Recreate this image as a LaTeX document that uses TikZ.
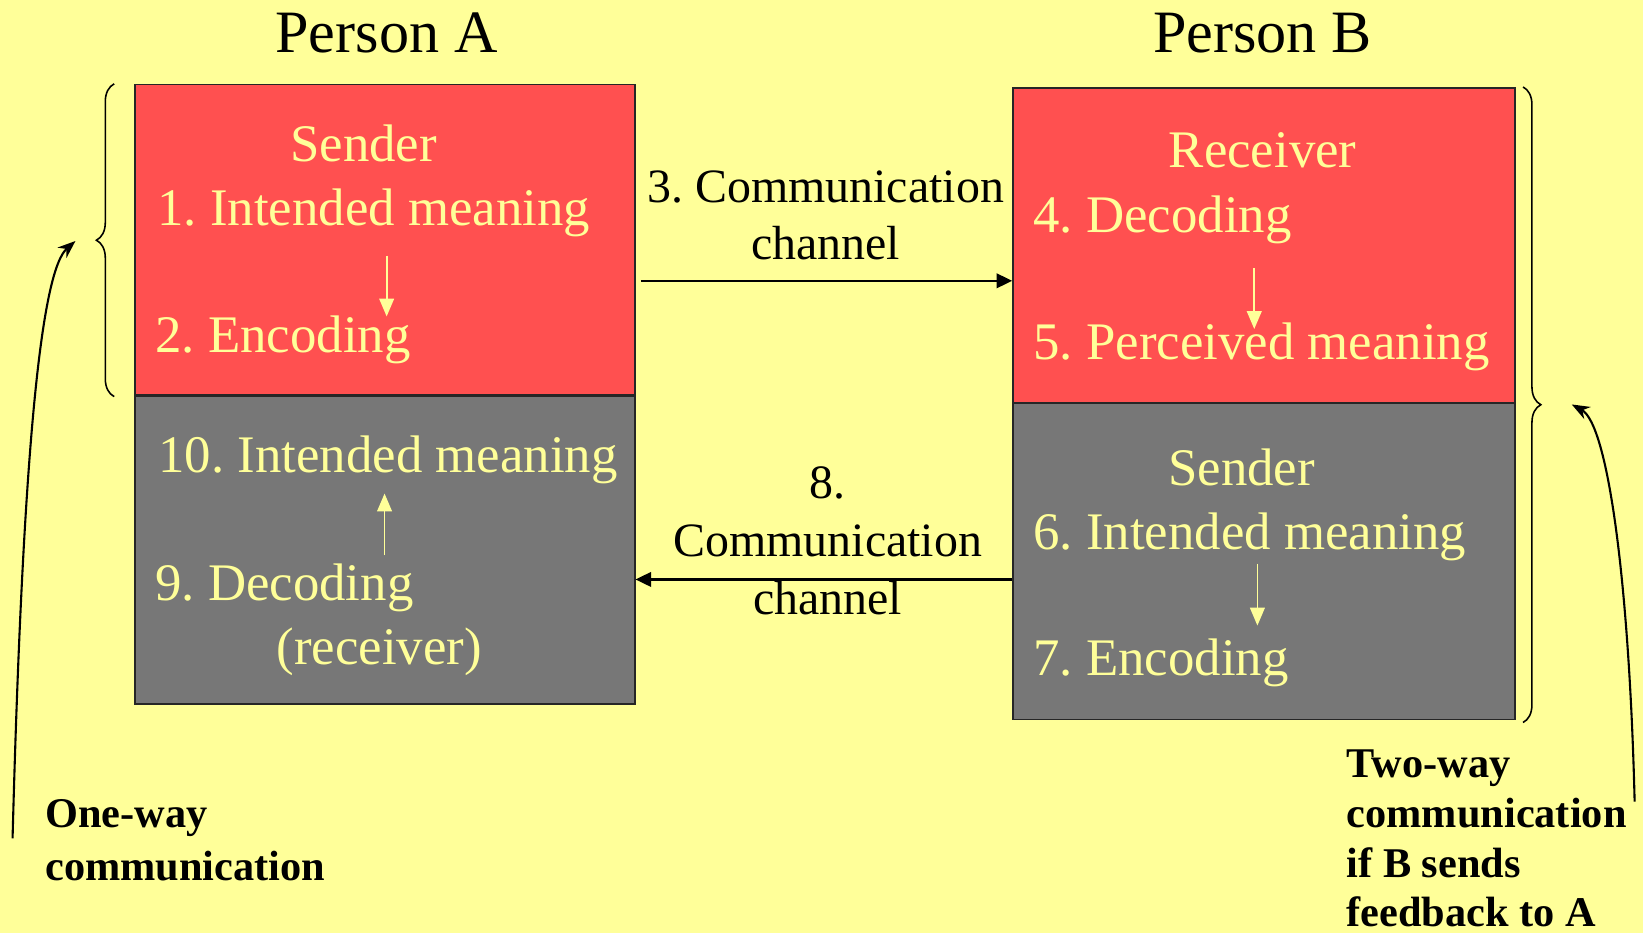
\documentclass[tikz,border=0pt]{standalone}
\usepackage{fontspec}
\setmainfont{Liberation Serif}
\usetikzlibrary{arrows.meta,calc,decorations.pathreplacing}
\frenchspacing

\definecolor{bgyellow}{HTML}{FFFF99}
\definecolor{boxred}{HTML}{FF5050}
\definecolor{boxgray}{HTML}{777777}

\tikzset{
  box/.style={draw=black!85, line width=1.5pt, anchor=north west, inner sep=0pt},
  redbox/.style={box, fill=boxred},
  graybox/.style={box, fill=boxgray},
  boxtext/.style={text=bgyellow, inner sep=0pt, font=\fontsize{50.4}{60}\selectfont},
  chantext/.style={inner sep=0pt, anchor=base, font=\fontsize{45.7}{55}\selectfont},
  persontext/.style={inner sep=0pt, anchor=base, font=\fontsize{57.4}{68}\selectfont},
  notetext/.style={inner sep=0pt, anchor=base west, font=\fontsize{40.4}{48}\selectfont\bfseries},
  inarrow/.style={draw=bgyellow, line width=1.7pt, -{Triangle[length=17pt,width=14pt]}},
  chanarrow/.style={line width=2pt, -{Triangle[length=15pt,width=14pt]}},
  bendarrow/.style={line width=2pt, -{Stealth[length=17pt,width=13pt]}},
  curly/.style={line width=1.5pt, decorate, decoration={brace, amplitude=17pt}}
}

\begin{document}
\begin{tikzpicture}[x=1pt,y=-1pt]

  \fill[bgyellow] (0,0) rectangle (1568,890);
  \useasboundingbox (0,0) rectangle (1568,890);

  % titles
  \node[persontext] (personA) at (369,50) {Person A};
  \node[persontext] (personB) at (1205,50) {Person B};

  % boxes of person A
  \node[redbox, minimum width=477pt, minimum height=296pt] (sendA) at (128,80) {};
  \node[graybox, minimum width=477pt, minimum height=294pt] (recA) at (128,377) {};

  % boxes of person B
  \node[redbox, minimum width=479pt, minimum height=301pt] (recB) at (966,83) {};
  \node[graybox, minimum width=479pt, minimum height=302pt] (sendB) at (966,384) {};

  % texts in A
  \node[boxtext, anchor=base] (senderA) at (347,154) {Sender};
  \node[boxtext, anchor=base west] (m1) at (150,215) {1. Intended meaning};
  \node[boxtext, anchor=base west] (m2) at (148,336) {2. Encoding};
  \node[boxtext, anchor=base west] (m10) at (151,451) {10. Intended meaning};
  \node[boxtext, anchor=base west] (m9) at (148,573) {9. Decoding};
  \node[boxtext, anchor=base] (recvr) at (362,634) {(receiver)};

  % texts in B
  \node[boxtext, anchor=base] (receiverB) at (1205,160) {Receiver};
  \node[boxtext, anchor=base west] (m4) at (986,222) {4. Decoding};
  \node[boxtext, anchor=base west] (m5) at (986,343) {5. Perceived meaning};
  \node[boxtext, anchor=base] (senderB) at (1185,463) {Sender};
  \node[boxtext, anchor=base west] (m6) at (986,524) {6. Intended meaning};
  \node[boxtext, anchor=base west] (m7) at (986,645) {7. Encoding};

  % small arrows inside the boxes
  \coordinate (xA1) at (369,0);
  \coordinate (xA2) at (367,0);
  \coordinate (xB1) at (1197,0);
  \coordinate (xB2) at (1200,0);
  \draw[inarrow] ($(m1.base -| xA1)+(0,29)$) -- ($(m2.base -| xA1)+(0,-34)$);
  \draw[inarrow] ($(m9.base -| xA2)+(0,-43)$) -- ($(m10.base -| xA2)+(0,20)$);
  \draw[inarrow] ($(m4.base -| xB1)+(0,34)$) -- ($(m5.base -| xB1)+(0,-29)$);
  \draw[inarrow] ($(m6.base -| xB2)+(0,14)$) -- ($(m7.base -| xB2)+(0,-48)$);

  % communication channels
  \coordinate (c3) at (0,268);
  \coordinate (c8) at (0,553);
  \draw[chanarrow] ($(sendA.east |- c3)+(5,0)$) -- (recB.west |- c3);
  \draw[chanarrow] (sendB.west |- c8) -- (recA.east |- c8);
  \node[chantext] (ch3a) at (788,193) {3. Communication};
  \node[chantext] (ch3b) at (788,248) {channel};
  \node[chantext] (ch8a) at (790,476) {8.};
  \node[chantext] (ch8b) at (790,531) {Communication};
  \node[chantext] (ch8c) at (790,586) {channel};

  % braces
  \draw[curly] ($(sendA.south west)+(-19,1)$) -- ($(sendA.north west)+(-19,0)$);
  \draw[curly] ($(recB.north east)+(7,0)$) -- ($(sendB.south east)+(7,2)$);

  % one-way and two-way notes
  \coordinate (oneend) at (72,230);
  \coordinate (twoend) at (1500,386);
  \draw[bendarrow] (12,800) .. controls (22,420) and (40,258) .. (oneend);
  \draw[bendarrow] (1560,765) .. controls (1555,560) and (1535,405) .. (twoend);
  \node[notetext] (one1) at (43,790) {One-way};
  \node[notetext] (one2) at (43,840) {communication};
  \foreach \txt [count=\i] in {Two-way, communication, if B sends, feedback to A}
    \node[notetext, name=two\i] at (1285,{742+47.5*(\i-1)}) {\txt};

\end{tikzpicture}
\end{document}
